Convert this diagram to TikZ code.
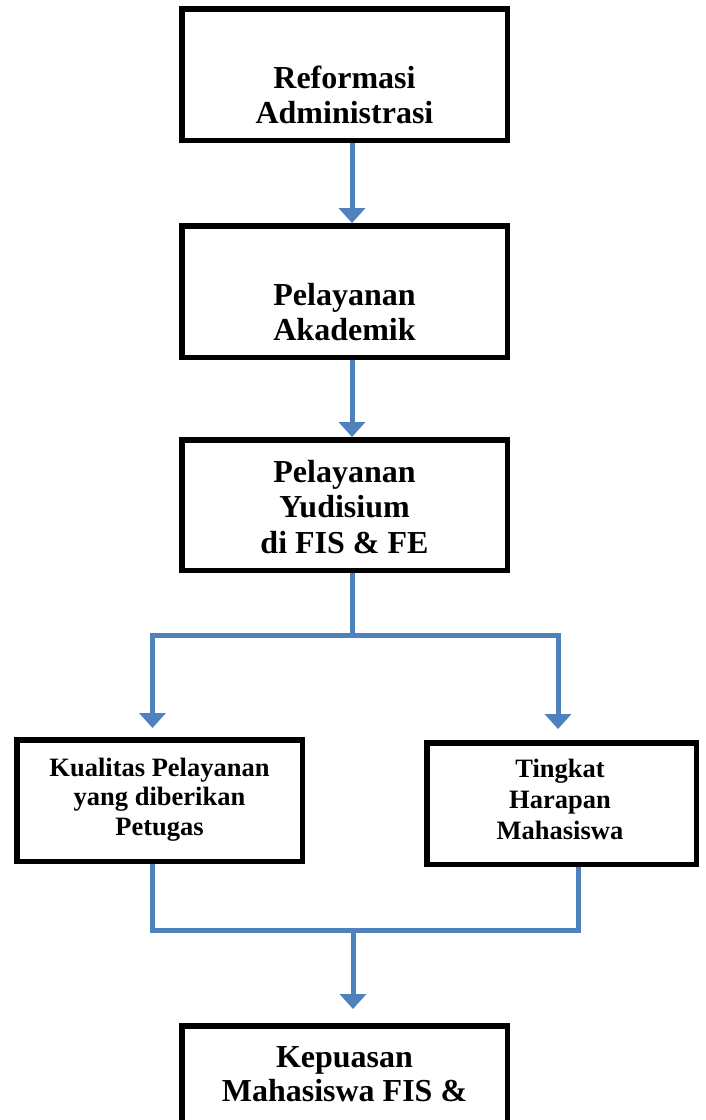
\documentclass[tikz,border=0pt]{standalone}
\usepackage{fontspec}
\setmainfont{Liberation Serif}
\usetikzlibrary{arrows.meta}
\definecolor{flowblue}{RGB}{79,129,189}
\tikzset{
  boxstyle/.style={draw=black, line width=5.5pt, rectangle, inner sep=0pt, fill=white},
  bigtxt/.style={anchor=base, inner sep=0pt, font=\bfseries\fontsize{32}{35}\selectfont},
  smalltxt/.style={anchor=base, inner sep=0pt, font=\bfseries\fontsize{26.5}{29}\selectfont},
  flowline/.style={draw=flowblue, line width=5pt, line join=miter},
  flowarrow/.style={flowline, -{Triangle[width=26pt,length=15pt]}}
}
\begin{document}
\begin{tikzpicture}[x=1pt,y=-1pt]
\useasboundingbox (0,0) rectangle (706,1120);
\clip (0,0) rectangle (706,1120);
\fill[white] (0,0) rectangle (706,1120);
% boxes
\node[boxstyle, minimum width=325.5pt, minimum height=131.5pt] (b1) at (344.5,74.5) {};
\node[boxstyle, minimum width=325.5pt, minimum height=131.5pt] (b2) at (344.5,291.5) {};
\node[boxstyle, minimum width=325.5pt, minimum height=130.5pt] (b3) at (344.5,505) {};
\node[boxstyle, minimum width=285.5pt, minimum height=121.5pt] (b4) at (159.5,800.5) {};
\node[boxstyle, minimum width=269.5pt, minimum height=121.5pt] (b5) at (561.5,803.5) {};
\node[boxstyle, minimum width=325.5pt, minimum height=154.5pt] (b6) at (344.5,1103) {};
% texts
\node[bigtxt] (t1a) at (344.5,88) {Reformasi};
\node[bigtxt] (t1b) at (344.5,123) {Administrasi};
\node[bigtxt] (t2a) at (344.5,305) {Pelayanan};
\node[bigtxt] (t2b) at (344.5,340) {Akademik};
\node[bigtxt] (t3a) at (344.5,482) {Pelayanan};
\node[bigtxt] (t3b) at (344.5,517) {Yudisium};
\node[bigtxt] (t3c) at (344.5,553) {di FIS \& FE};
\node[smalltxt] (t4a) at (159.5,776) {Kualitas Pelayanan};
\node[smalltxt] (t4b) at (159.5,805) {yang diberikan};
\node[smalltxt] (t4c) at (159.5,835) {Petugas};
\node[smalltxt] (t5a) at (560,777) {Tingkat};
\node[smalltxt] (t5b) at (560,808) {Harapan};
\node[smalltxt] (t5c) at (560,839) {Mahasiswa};
\node[bigtxt] (t6a) at (344.5,1067) {Kepuasan};
\node[bigtxt] (t6b) at (344.5,1101) {Mahasiswa FIS \&};
% junctions
\coordinate (j1) at (352.5,635.5);
\coordinate (j2) at (353,930);
% connectors
\draw[flowarrow] ([xshift=7.5pt]b1.south) -- ([xshift=7.5pt]b2.north);
\draw[flowarrow] ([xshift=7.5pt]b2.south) -- ([xshift=7.5pt]b3.north);
\draw[flowline] ([xshift=8pt]b3.south) -- (j1);
\draw[flowarrow, shorten >=9pt] (j1) -| ([xshift=-7pt]b4.north);
\draw[flowarrow, shorten >=11pt] (j1) -| ([xshift=-3.5pt]b5.north);
\draw[flowline] ([xshift=-7.5pt]b4.south) |- (j2);
\draw[flowline] ([xshift=16.5pt]b5.south) |- (j2);
\draw[flowarrow, shorten >=14pt] (j2) -- (j2 |- b6.north);
\end{tikzpicture}
\end{document}
